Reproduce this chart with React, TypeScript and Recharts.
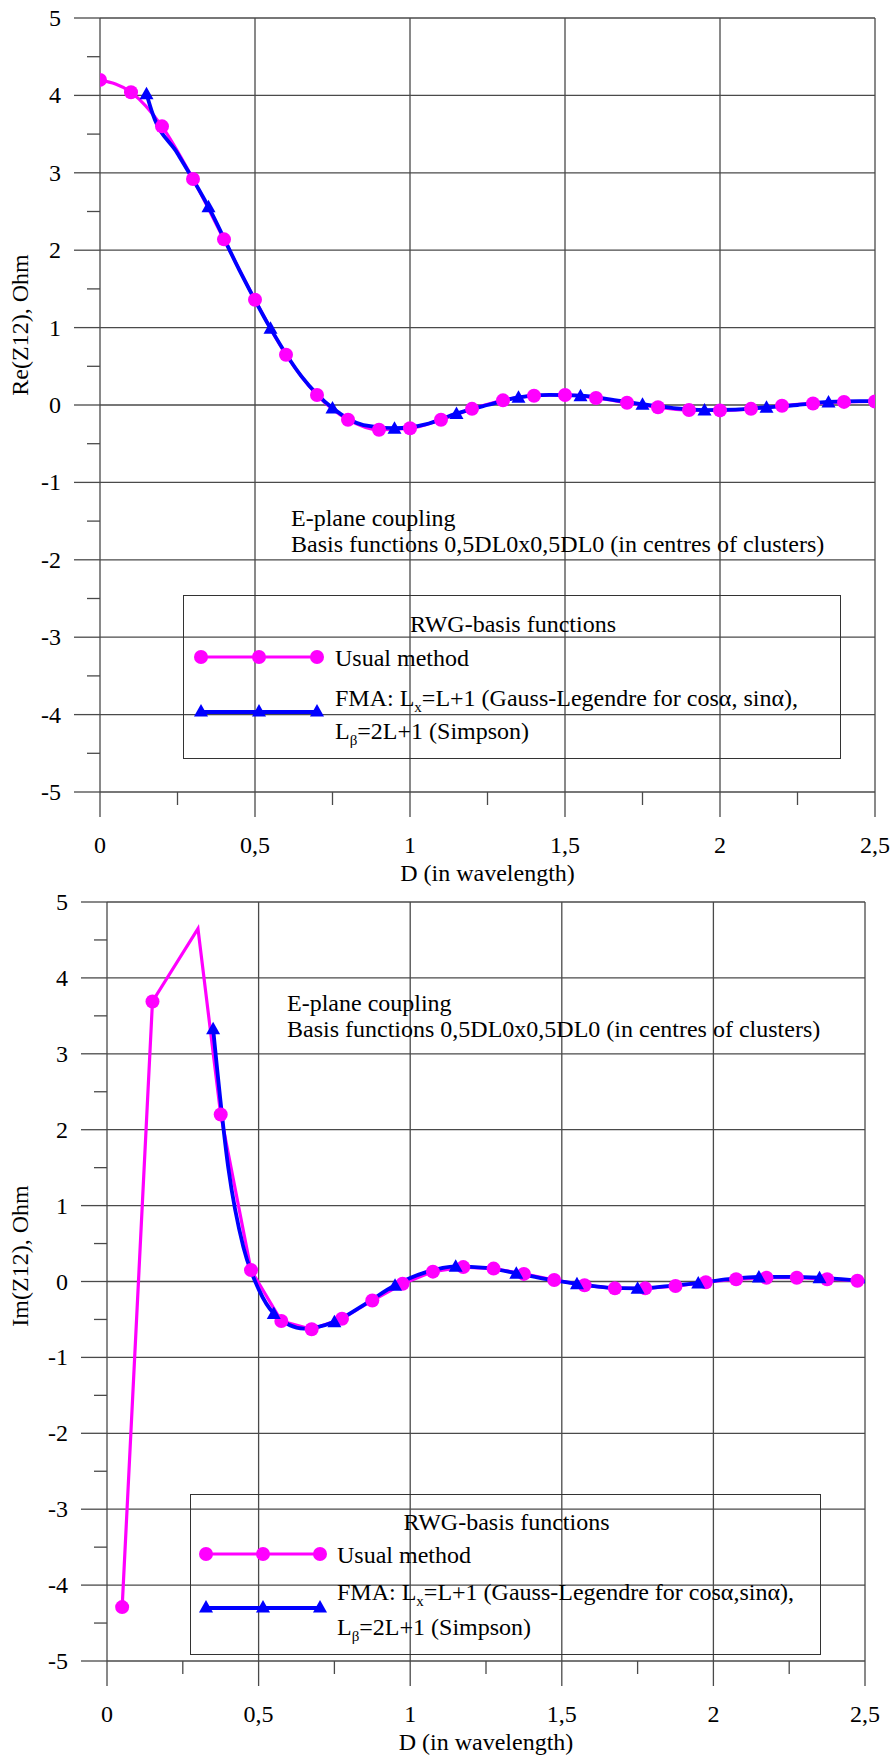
import { ComposedChart, Line, XAxis, YAxis, CartesianGrid, Label } from 'recharts'

const FONT = "'Liberation Serif', 'Times New Roman', serif"
const FS = 24
const GRID = '#4a4a4a'
const PINK = '#ff00ff'
const BLUE = '#0000ff'

const X_TICKS = [0, 0.25, 0.5, 0.75, 1, 1.25, 1.5, 1.75, 2, 2.25, 2.5]
const X_GRID = [0, 0.5, 1, 1.5, 2, 2.5]
const Y_TICKS = [-5, -4.5, -4, -3.5, -3, -2.5, -2, -1.5, -1, -0.5, 0, 0.5, 1, 1.5, 2, 2.5, 3, 3.5, 4, 4.5, 5]
const Y_GRID = [-5, -4, -3, -2, -1, 0, 1, 2, 3, 4, 5]

// Re(Z12): usual method
const RE_USUAL_D = [0, 0.1, 0.2, 0.3, 0.4, 0.5, 0.6, 0.7, 0.8, 0.9, 1, 1.1, 1.2, 1.3, 1.4, 1.5, 1.6, 1.7, 1.8, 1.9, 2, 2.1, 2.2, 2.3, 2.4, 2.5]
const RE_USUAL = [4.2, 4.04, 3.6, 2.92, 2.14, 1.36, 0.65, 0.13, -0.19, -0.32, -0.3, -0.19, -0.05, 0.06, 0.12, 0.13, 0.09, 0.03, -0.03, -0.065, -0.07, -0.05, -0.01, 0.02, 0.04, 0.045]
// Re(Z12): FMA (marker on every 0.2 step)
const RE_FMA_D = [0.15, 0.17, 0.25, 0.35, 0.45, 0.55, 0.65, 0.75, 0.85, 0.95, 1.05, 1.15, 1.25, 1.35, 1.45, 1.55, 1.65, 1.75, 1.85, 1.95, 2.05, 2.15, 2.25, 2.35, 2.45, 2.5]
const RE_FMA = [4.02, 3.76, 3.25, 2.56, 1.74, 0.99, 0.37, -0.04, -0.26, -0.3, -0.25, -0.11, 0, 0.1, 0.13, 0.12, 0.07, 0.01, -0.04, -0.065, -0.06, -0.03, 0, 0.04, 0.05, 0.05]
const RE_FMA_MARK = [1, 0, 0, 1, 0, 1, 0, 1, 0, 1, 0, 1, 0, 1, 0, 1, 0, 1, 0, 1, 0, 1, 0, 1, 0, 0]

// Im(Z12): usual method
const IM_USUAL_D = [0.05, 0.15, 0.3, 0.375, 0.475, 0.575, 0.675, 0.775, 0.875, 0.975, 1.075, 1.175, 1.275, 1.375, 1.475, 1.575, 1.675, 1.775, 1.875, 1.975, 2.075, 2.175, 2.275, 2.375, 2.475]
const IM_USUAL = [-4.29, 3.69, 4.65, 2.2, 0.15, -0.52, -0.63, -0.49, -0.25, -0.03, 0.13, 0.19, 0.17, 0.1, 0.02, -0.05, -0.09, -0.09, -0.06, -0.01, 0.03, 0.05, 0.05, 0.03, 0.01]
const IM_USUAL_MARK = [1, 1, 0, 1, 1, 1, 1, 1, 1, 1, 1, 1, 1, 1, 1, 1, 1, 1, 1, 1, 1, 1, 1, 1, 1]
// Im(Z12): FMA
const IM_FMA_D = [0.35, 0.4, 0.45, 0.5, 0.55, 0.65, 0.75, 0.85, 0.95, 1.05, 1.15, 1.25, 1.35, 1.45, 1.55, 1.65, 1.75, 1.85, 1.95, 2.05, 2.15, 2.25, 2.35, 2.45, 2.5]
const IM_FMA = [3.33, 1.5, 0.45, -0.1, -0.42, -0.62, -0.53, -0.3, -0.05, 0.12, 0.2, 0.18, 0.11, 0.03, -0.03, -0.08, -0.09, -0.06, -0.02, 0.03, 0.06, 0.06, 0.05, 0.02, 0]
const IM_FMA_MARK = [1, 0, 0, 0, 1, 0, 1, 0, 1, 0, 1, 0, 1, 0, 1, 0, 1, 0, 1, 0, 1, 0, 1, 0, 0]

type Pt = { d: number; v: number; m: number }
const zip = (d: number[], v: number[], m?: number[]): Pt[] =>
  d.map((x, i) => ({ d: x, v: v[i], m: m ? m[i] : 1 }))

const fmtX = (v: number) => String(v).replace('.', ',')

const YTick = ({ x, y, payload }: any) => {
  const major = Number.isInteger(payload.value)
  return (
    <g>
      <line x1={x - (major ? 26 : 13)} x2={x} y1={y} y2={y} stroke={GRID} strokeWidth={1.3} />
      {major && (
        <text x={x - 39} y={y} textAnchor="end" dominantBaseline="central" fontFamily={FONT} fontSize={FS} fill="#000">
          {payload.value}
        </text>
      )}
    </g>
  )
}

const XTick = ({ x, y, payload }: any) => {
  const major = Number.isInteger(payload.value * 2)
  return (
    <g>
      <line x1={x} x2={x} y1={y} y2={y + (major ? 25 : 13)} stroke={GRID} strokeWidth={1.3} />
      {major && (
        <text x={x} y={y + 53} textAnchor="middle" dominantBaseline="central" fontFamily={FONT} fontSize={FS} fill="#000">
          {fmtX(payload.value)}
        </text>
      )}
    </g>
  )
}

const circleDot = (p: any) =>
  p.payload.m ? <circle key={p.index} cx={p.cx} cy={p.cy} r={7} fill={PINK} /> : <g key={p.index} />

const triPath = (cx: number, cy: number) =>
  `M${cx},${cy - 7} L${cx + 7},${cy + 5.5} L${cx - 7},${cy + 5.5} Z`

const triDot = (p: any) =>
  p.payload.m ? <path key={p.index} d={triPath(p.cx, p.cy)} fill={BLUE} /> : <g key={p.index} />

interface Lg {
  x: number; y: number; w: number; h: number
  titleY: number; usualY: number; fmaY: number; betaY: number; blueY: number
  symX0: number; symX1: number; textX: number; comma: string
}

function LegendBox({ lg }: { lg: Lg }) {
  const mid = (lg.symX0 + lg.symX1) / 2
  const txt: React.CSSProperties = {
    position: 'absolute', left: lg.textX, lineHeight: '26px', whiteSpace: 'nowrap',
    fontFamily: FONT, fontSize: FS, color: '#000',
  }
  const sub: React.CSSProperties = { fontSize: 15, verticalAlign: '-6px', lineHeight: 0 }
  return (
    <div style={{ position: 'absolute', left: lg.x, top: lg.y, width: lg.w, height: lg.h, border: '1.3px solid #333', boxSizing: 'border-box' }}>
      <svg width={lg.w} height={lg.h} style={{ position: 'absolute', left: -1, top: -1 }}>
        <line x1={lg.symX0} x2={lg.symX1} y1={lg.usualY} y2={lg.usualY} stroke={PINK} strokeWidth={3.2} />
        {[lg.symX0, mid, lg.symX1].map((cx) => <circle key={cx} cx={cx} cy={lg.usualY} r={7} fill={PINK} />)}
        <line x1={lg.symX0} x2={lg.symX1} y1={lg.blueY} y2={lg.blueY} stroke={BLUE} strokeWidth={3.8} />
        {[lg.symX0, mid, lg.symX1].map((cx) => <path key={cx} d={triPath(cx, lg.blueY - 1)} fill={BLUE} />)}
      </svg>
      <div style={{ ...txt, left: 0, width: lg.w, textAlign: 'center', top: lg.titleY - 13 }}>RWG-basis functions</div>
      <div style={{ ...txt, top: lg.usualY - 13 }}>Usual method</div>
      <div style={{ ...txt, top: lg.fmaY - 13 }}>
        FMA: L<sub style={sub}>x</sub>=L+1 (Gauss-Legendre for cosα,{lg.comma}sinα),
      </div>
      <div style={{ ...txt, top: lg.betaY - 13 }}>
        L<sub style={sub}>β</sub>=2L+1 (Simpson)
      </div>
    </div>
  )
}

interface ChartProps {
  top: number; height: number; left: number; right: number; plotTop: number; xAxisH: number
  usual: Pt[]; fma: Pt[]; usualCurve: 'monotone' | 'linear'
  yTitle: string; yTitleY: number
  noteX: number; noteY: number
  lg: Lg
}

function ZChart(p: ChartProps) {
  return (
    <div style={{ position: 'absolute', left: 0, top: p.top, width: 892, height: p.height }}>
      <ComposedChart width={892} height={p.height} margin={{ top: p.plotTop, right: p.right, bottom: 0, left: 0 }}>
        <CartesianGrid horizontalValues={Y_GRID} verticalValues={X_GRID} stroke={GRID} strokeWidth={1.3} />
        <XAxis
          type="number" dataKey="d" domain={[0, 2.5]} ticks={X_TICKS} interval={0} height={p.xAxisH}
          tickSize={0} tickMargin={0} axisLine={false} tickLine={false} tick={XTick} allowDataOverflow
        >
          <Label
            content={({ viewBox }: any) => (
              <text x={viewBox.x + viewBox.width / 2} y={viewBox.y + 81} textAnchor="middle" dominantBaseline="central" fontFamily={FONT} fontSize={FS} fill="#000">
                D (in wavelength)
              </text>
            )}
          />
        </XAxis>
        <YAxis
          type="number" domain={[-5, 5]} ticks={Y_TICKS} interval={0} width={p.left}
          tickSize={0} tickMargin={0} axisLine={false} tickLine={false} tick={YTick} allowDataOverflow
        >
          <Label
            content={() => (
              <text x={20} y={p.yTitleY} transform={`rotate(-90 20 ${p.yTitleY})`} textAnchor="middle" dominantBaseline="central" fontFamily={FONT} fontSize={FS} fill="#000">
                {p.yTitle}
              </text>
            )}
          />
        </YAxis>
        <Line data={p.usual} dataKey="v" type={p.usualCurve} stroke={PINK} strokeWidth={3.2} dot={circleDot} activeDot={false} isAnimationActive={false} />
        <Line data={p.fma} dataKey="v" type="monotone" stroke={BLUE} strokeWidth={3.8} dot={triDot} activeDot={false} isAnimationActive={false} />
      </ComposedChart>
      <div style={{ position: 'absolute', left: p.noteX, top: p.noteY, fontFamily: FONT, fontSize: FS, lineHeight: '26px', whiteSpace: 'nowrap', color: '#000' }}>
        E-plane coupling<br />Basis functions 0,5DL0x0,5DL0 (in centres of clusters)
      </div>
      <LegendBox lg={p.lg} />
    </div>
  )
}

export default function App() {
  return (
    <div style={{ position: 'absolute', left: 0, top: 0, width: 892, height: 1756, background: '#fff' }}>
      <ZChart
        top={0} height={900} left={100} right={17} plotTop={18} xAxisH={108}
        usual={zip(RE_USUAL_D, RE_USUAL)} fma={zip(RE_FMA_D, RE_FMA, RE_FMA_MARK)} usualCurve="monotone"
        yTitle="Re(Z12), Ohm" yTitleY={325}
        noteX={291} noteY={505}
        lg={{ x: 183, y: 595, w: 658, h: 164, titleY: 28, usualY: 62, fmaY: 102, betaY: 135, blueY: 117, symX0: 18, symX1: 134, textX: 151, comma: ' ' }}
      />
      <ZChart
        top={880} height={876} left={107} right={27} plotTop={22} xAxisH={95}
        usual={zip(IM_USUAL_D, IM_USUAL, IM_USUAL_MARK)} fma={zip(IM_FMA_D, IM_FMA, IM_FMA_MARK)} usualCurve="linear"
        yTitle="Im(Z12), Ohm" yTitleY={376}
        noteX={287} noteY={110}
        lg={{ x: 190, y: 614, w: 631, h: 161, titleY: 27, usualY: 60, fmaY: 97, betaY: 132, blueY: 114, symX0: 16, symX1: 130, textX: 146, comma: '' }}
      />
    </div>
  )
}
